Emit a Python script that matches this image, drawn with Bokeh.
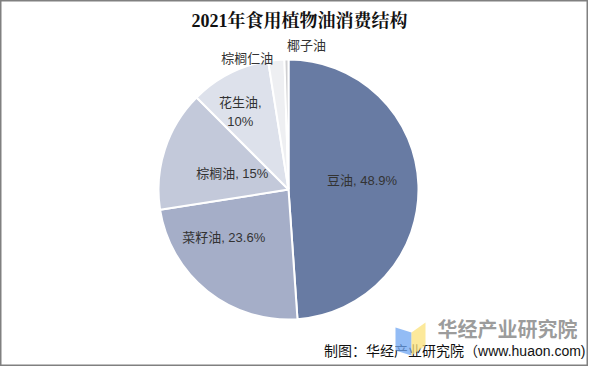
import numpy as np
from bokeh.plotting import figure
from bokeh.models import Range1d, ColumnDataSource
from bokeh.core.properties import value
from bokeh.embed import file_html
from bokeh.resources import INLINE

# ---- data ----
title = "2021年食用植物油消费结构"
categories = ["豆油", "菜籽油", "棕榈油", "花生油", "棕榈仁油", "椰子油"]
shares = [48.9, 23.6, 15.0, 10.0, 2.0, 0.5]
labels = ["豆油, 48.9%", "菜籽油, 23.6%", "棕榈油, 15%", "花生油,\n10%", "棕榈仁油", "椰子油"]
colors = ["#687ba3", "#a5aec8", "#c3c9da", "#dde1eb", "#eeeff2", "#cfcfd2"]
source_note = "制图：华经产业研究院（www.huaon.com)"

W, H = 588, 366
FONT = value("Liberation Sans, 'Noto Sans CJK SC', sans-serif")

p = figure(width=W, height=H, output_backend="svg", toolbar_location=None,
           x_range=Range1d(0, W), y_range=Range1d(0, H), min_border=0)
p.axis.visible = False
p.grid.visible = False
p.outline_line_color = "#808080"
p.outline_line_width = 2
p.background_fill_color = "white"

cx, cy, R = 288, 177, 130

fr = np.array(shares) / sum(shares)
cum = np.concatenate([[0], np.cumsum(fr)])
start = np.pi / 2 - cum[:-1] * 2 * np.pi
end = np.pi / 2 - cum[1:] * 2 * np.pi
mid = (start + end) / 2

src = ColumnDataSource(dict(start=start, end=end, color=colors, cat=categories))
p.wedge(x=cx, y=cy, radius=R, radius_units="screen", start_angle="start", end_angle="end",
        direction="clock", fill_color="color", line_color="white", line_width=2, source=src)

# label placement: radius fraction and angle tweak (degrees) per slice
lab_r = [0.57, 0.62, 0.45, 0.70, 1.06, 1.12]
lab_da = [5, -15, 2, 5, 12, -8]
lx = [cx + R * r * np.cos(m + np.deg2rad(d)) for r, m, d in zip(lab_r, mid, lab_da)]
ly = [cy + R * r * np.sin(m + np.deg2rad(d)) for r, m, d in zip(lab_r, mid, lab_da)]
p.text(x=lx, y=ly, text=labels, text_align="center", text_baseline="middle",
       text_font=FONT, text_font_size="13px", text_color="#333333", text_line_height=1.25)

# title
p.text(x=[W / 2 + 5], y=[H - 20], text=[title], text_align="center", text_baseline="middle",
       text_font=value("'Liberation Serif', 'Noto Serif CJK SC', 'Noto Sans CJK SC', serif"),
       text_font_size="18px", text_font_style="bold", text_color="#111111")

# footer
p.text(x=[W - 3], y=[16], text=[source_note], text_align="right", text_baseline="middle",
       text_font=FONT, text_font_size="14px", text_color="#111111")

# watermark logo
p.patch(x=[395, 411, 411, 395], y=[39, 34, 11, 16], fill_color="#6fa6f2", fill_alpha=0.75, line_color=None)
p.patch(x=[411, 425, 425, 411], y=[34, 44, 21, 11], fill_color="#fbe27a", fill_alpha=0.75, line_color=None)
p.text(x=[437], y=[38], text=["华经产业研究院"], text_align="left", text_baseline="middle",
       text_font=value("'Noto Sans CJK SC', sans-serif"), text_font_size="20px",
       text_font_style="bold", text_color="#8a8a8a", text_alpha=0.85)

open("out.html", "w").write(file_html(p, INLINE))
